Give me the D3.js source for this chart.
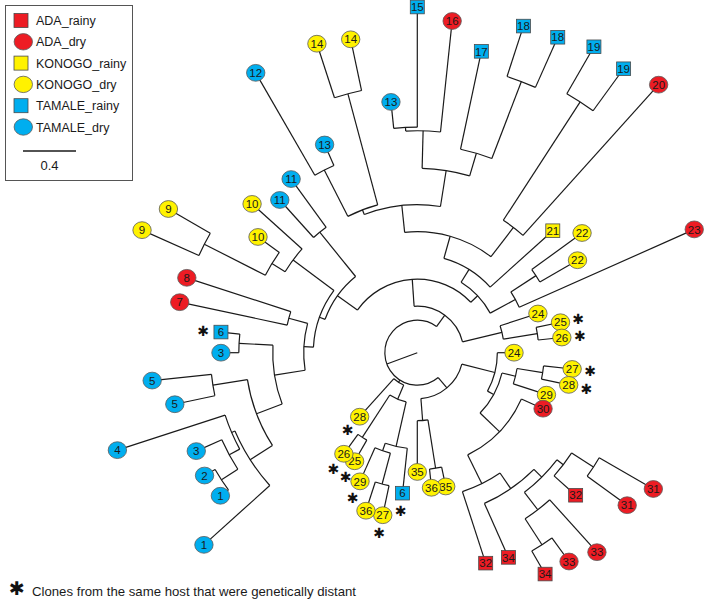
<!DOCTYPE html>
<html><head><meta charset="utf-8">
<script src="https://cdn.jsdelivr.net/npm/d3@7"></script>
<style>body{margin:0;background:#fff}svg{display:block}</style>
</head><body><svg id="c" width="709" height="603"></svg>
<script>
// ---- internal nodes of the tree (cumulative distance from the centre, in substitution units)
const nodeIds     = ["base","root","W2","Rb","W","U","Y1","N2526a","M00","T","M0","N11","M1","N10b","N910","N9","M2","N78","M3","N36","N5","M4","M4a","N312","N12","S","N2223","N22","R1","P","N1920","N19","X","AB","N1213","N14","B","A","N1315","N18","Y2","N35g","N3536","Z","N2729","N2728","Q30","G","G1","G2","N3132","N31","N33x","N3334","Nbc","N6g","N29g","N3627","N2526b"];
const nodeParents = ["","base","root","root","root","W","W","Y1","U","U","M00","M00","M0","M0","N10b","N910","M1","M1","M2","M2","M3","M3","M4","M4a","N312","T","T","N2223","S","R1","R1","N1920","P","P","X","X","AB","AB","B","A","W2","W2","N35g","Y2","Z","N2729","Z","Q30","G","G1","G2","N3132","G2","N33x","Rb","Nbc","N6g","N29g","Nbc"];
const nodeDepths  = [0,0.245,0.347,0.264,0.351,0.555,0.657,0.917,0.740,0.626,0.785,1.170,0.857,1.170,1.287,1.804,1.091,1.004,1.298,1.347,1.562,1.498,1.525,1.615,1.762,0.740,0.842,1.068,0.913,1.117,1.192,2.257,1.155,1.392,1.547,2.023,1.675,1.570,1.702,2.192,0.604,0.513,0.883,0.657,0.762,0.958,0.860,1.102,1.245,1.328,1.389,1.585,1.494,1.728,0.381,0.725,0.785,1.026,0.762];

// ---- leaves, in clockwise order
const leafLabels  = ["24","27","28","29","30","31","31","32","33","33","34","34","32","35","36","35","6","27","36","29","25","26","28","1","1","2","3","4","5","5","3","6","7","8","9","9","10","10","11","11","12","13","14","14","13","15","16","17","18","18","19","19","20","21","22","22","23","24","25","26"];
const leafGroups  = ["KONOGO_dry","KONOGO_dry","KONOGO_dry","KONOGO_dry","ADA_dry","ADA_dry","ADA_dry","ADA_rainy","ADA_dry","ADA_dry","ADA_rainy","ADA_rainy","ADA_rainy","KONOGO_dry","KONOGO_dry","KONOGO_dry","TAMALE_rainy","KONOGO_dry","KONOGO_dry","KONOGO_dry","KONOGO_dry","KONOGO_dry","KONOGO_dry","TAMALE_dry","TAMALE_dry","TAMALE_dry","TAMALE_dry","TAMALE_dry","TAMALE_dry","TAMALE_dry","TAMALE_dry","TAMALE_rainy","ADA_dry","ADA_dry","KONOGO_dry","KONOGO_dry","KONOGO_dry","KONOGO_dry","TAMALE_dry","TAMALE_dry","TAMALE_dry","TAMALE_dry","KONOGO_dry","KONOGO_dry","TAMALE_dry","TAMALE_rainy","ADA_dry","TAMALE_rainy","TAMALE_rainy","TAMALE_rainy","TAMALE_rainy","TAMALE_rainy","ADA_dry","KONOGO_rainy","KONOGO_dry","KONOGO_dry","ADA_dry","KONOGO_dry","KONOGO_dry","KONOGO_dry"];
const leafParents = ["Y2","N2728","N2728","N2729","Q30","N31","N31","N3132","N33x","N3334","N3334","G1","G","N3536","N3536","N35g","N6g","N3627","N3627","N29g","N2526b","N2526b","Rb","M4","N12","N12","N312","M4a","N5","N5","N36","N36","N78","N78","N9","N9","N910","N10b","N11","N11","N1213","N1213","N14","N14","N1315","N1315","B","A","N18","N18","N19","N19","N1920","S","N22","N22","N2223","Y1","N2526a","N2526a"];
const leafDepths  = [0.730,1.175,1.168,1.025,1.039,2.057,1.958,1.608,2.026,1.948,1.929,1.691,1.670,1.032,1.025,0.900,1.066,1.254,1.254,1.063,0.946,0.943,0.650,2.167,1.837,1.854,1.826,2.380,1.871,2.012,1.482,1.490,1.833,1.829,2.274,2.169,1.486,1.678,1.551,1.620,2.439,1.720,2.452,2.418,1.903,2.609,2.517,2.325,2.592,2.606,2.666,2.649,2.722,1.376,1.537,1.396,2.288,0.957,1.105,1.097];
const leafStars   = [0,1,1,0,0,0,0,0,0,0,0,0,0,0,0,0,1,1,0,1,1,1,1,0,0,0,0,0,0,0,0,1,0,0,0,0,0,0,0,0,0,0,0,0,0,0,0,0,0,0,0,0,0,0,0,0,0,0,1,1];

// ---- legend
const groupNames  = ["ADA_rainy","ADA_dry","KONOGO_rainy","KONOGO_dry","TAMALE_rainy","TAMALE_dry"];
const groupColors = ["#ED1C24","#ED1C24","#FFF200","#FFF200","#00AEEF","#00AEEF"];
const scaleBarValue = 0.4;
const footnote = "Clones from the same host that were genetically distant";

const svg = d3.select("#c");
const font = "'Liberation Sans', Arial, sans-serif";
const cx = 417.3, cy = 352.7;
const rScale = d3.scaleLinear().domain([0, 1]).range([0, 132.5]);
const aScale = d3.scaleLinear().domain([0, leafLabels.length]).range([90, 450]);
const color = d3.scaleOrdinal().domain(groupNames).range(groupColors);
const isRainy = g => /rainy$/.test(g);

const rows = nodeIds.map((id, i) => ({id, parent: nodeParents[i] || null, depth: nodeDepths[i]}))
  .concat(leafLabels.map((lab, i) => ({id: "L" + i, parent: leafParents[i], depth: leafDepths[i],
     label: lab, group: leafGroups[i], star: leafStars[i], index: i})));
const tree = d3.stratify().id(d => d.id).parentId(d => d.parent)(rows);
tree.eachAfter(n => {
  n.a = n.children ? d3.mean(n.children, c => c.a) : aScale(n.data.index);
  n.r = rScale(n.data.depth);
});
const pt = (a, r) => { const t = a * Math.PI / 180; return [cx + r * Math.sin(t), cy - r * Math.cos(t)]; };

const g = svg.append("g").attr("fill", "none").attr("stroke", "#1a1a1a").attr("stroke-width", 1.2);
// radial branches
g.selectAll("path.rad").data(tree.descendants().filter(n => n.parent)).join("path")
  .attr("class", "rad")
  .attr("d", n => { const p0 = pt(n.a, n.parent.r), p1 = pt(n.a, n.r); return `M${p0}L${p1}`; });
// arcs joining the children of each node
g.selectAll("path.arc").data(tree.descendants().filter(n => n.children && n.children.length > 1)).join("path")
  .attr("class", "arc")
  .attr("d", n => {
    const a0 = d3.min(n.children, c => c.a), a1 = d3.max(n.children, c => c.a);
    const p0 = pt(a0, n.r), p1 = pt(a1, n.r);
    return `M${p0}A${n.r},${n.r} 0 ${a1 - a0 > 180 ? 1 : 0} 1 ${p1}`;
  });

// leaves
const leaves = tree.leaves();
const lg = svg.append("g");
const leafG = lg.selectAll("g").data(leaves).join("g")
  .attr("transform", n => `translate(${pt(n.a, n.r)})`);
leafG.filter(n => isRainy(n.data.group)).append("rect")
  .attr("x", -7).attr("y", -6.8).attr("width", 14).attr("height", 13.6)
  .attr("fill", n => color(n.data.group)).attr("stroke", "#4a4a4a").attr("stroke-width", 0.8);
leafG.filter(n => !isRainy(n.data.group)).append("ellipse")
  .attr("rx", 9.2).attr("ry", 8.4)
  .attr("fill", n => color(n.data.group)).attr("stroke", "#5a5a5a").attr("stroke-width", 0.8);
leafG.append("text").text(n => n.data.label)
  .attr("text-anchor", "middle").attr("dy", "0.36em")
  .attr("font-family", font).attr("font-size", 11.5).attr("fill", "#1a1a1a");

// stars for clones from the same host
svg.append("g").selectAll("text").data(leaves.filter(n => n.data.star)).join("text")
  .attr("transform", n => `translate(${pt(n.a, n.r + 18)})`)
  .attr("text-anchor", "middle").attr("dy", "0.38em")
  .attr("font-family", "'DejaVu Sans', sans-serif").attr("font-size", 14).attr("fill", "#111")
  .text("\u2731");

// legend
const leg = svg.append("g");
leg.append("rect").attr("x", 5.5).attr("y", 5.5).attr("width", 127).attr("height", 175)
  .attr("fill", "#fff").attr("stroke", "#555").attr("stroke-width", 1);
const legRow = d3.scaleLinear().domain([0, 5]).range([20.5, 127]);
const items = leg.selectAll("g").data(groupNames).join("g")
  .attr("transform", (d, i) => `translate(0,${legRow(i)})`);
items.filter(d => isRainy(d)).append("rect").attr("x", 14).attr("y", -7).attr("width", 14).attr("height", 14)
  .attr("fill", d => color(d)).attr("stroke", "#4a4a4a").attr("stroke-width", 0.8);
items.filter(d => !isRainy(d)).append("ellipse").attr("cx", 23.3).attr("rx", 9.2).attr("ry", 8.2)
  .attr("fill", d => color(d)).attr("stroke", "#5a5a5a").attr("stroke-width", 0.8);
items.append("text").attr("x", 36).attr("dy", "0.36em").text(d => d)
  .attr("font-family", font).attr("font-size", 12.5).attr("fill", "#1a1a1a");
const barY = 151;
leg.append("line").attr("x1", 23).attr("x2", 23 + rScale(scaleBarValue)).attr("y1", barY).attr("y2", barY)
  .attr("stroke", "#1a1a1a").attr("stroke-width", 1.3);
leg.append("text").attr("x", 23 + rScale(scaleBarValue) / 2).attr("y", 165).attr("dy", "0.36em")
  .attr("text-anchor", "middle").attr("font-family", font).attr("font-size", 13).attr("fill", "#1a1a1a")
  .text(String(scaleBarValue));

// footnote
svg.append("text").attr("x", 17).attr("y", 589).attr("dy", "0.34em").attr("text-anchor", "middle")
  .attr("font-family", "'DejaVu Sans', sans-serif").attr("font-size", 19).attr("fill", "#111").text("\u2731");
svg.append("text").attr("x", 32).attr("y", 592).attr("dy", "0.34em")
  .attr("font-family", font).attr("font-size", 13.2).attr("fill", "#1a1a1a").text(footnote);
</script></body></html>
